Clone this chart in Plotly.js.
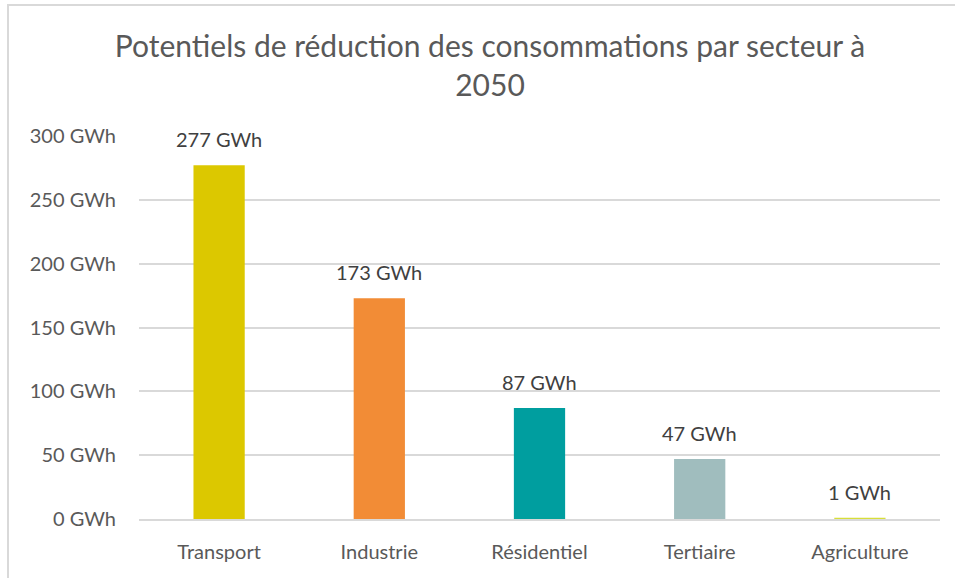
<!DOCTYPE html>
<html>
<head>
<meta charset="utf-8">
<script src="https://cdn.plot.ly/plotly-3.0.1.min.js"></script>
<style>
  body { margin: 0; background: #fff; }
  #chartDiv { width: 955px; height: 578px; }
  /* light frame of the chart area, open on right and bottom */
  #frame { position: absolute; left: 7px; top: 4px; width: 970px; height: 600px;
           border-left: 2px solid #d9d9d9; border-top: 2px solid #d9d9d9; pointer-events: none; }
</style>
</head>
<body>
<div id="chartDiv"></div>
<div id="frame"></div>
<script>
// chart values
var sectors = ['Transport', 'Industrie', 'Résidentiel', 'Tertiaire', 'Agriculture'];
var savings = [277, 173, 87, 47, 1]; // GWh
var barColors = ['#dcc800', '#f28c36', '#009e9f', '#a0bdbe', '#d7de3a'];
var yTicks = [0, 50, 100, 150, 200, 250, 300];
var yTickText = yTicks.map(function (v) { return v + ' GWh'; });

var data = [{
    type: 'bar',
    x: sectors,
    y: savings,
    marker: { color: barColors },
    hoverinfo: 'none'
}];

// data labels above each bar
var labels = [];
for (var i = 0; i < sectors.length; i++) {
    labels.push({
        x: sectors[i],
        y: savings[i],
        text: savings[i] + ' GWh',
        showarrow: false,
        yanchor: 'bottom',
        yshift: 12,
        font: { family: 'Lato, sans-serif', size: 20, color: '#404040' }
    });
}

var layout = {
    width: 955,
    height: 578,
    margin: { l: 139, r: 15, t: 136, b: 59 },
    paper_bgcolor: '#ffffff',
    plot_bgcolor: '#ffffff',
    showlegend: false,
    bargap: 0.68,
    font: { family: 'Lato, sans-serif', color: '#595959' },
    title: {
        text: 'Potentiels de réduction des consommations par secteur à<br>2050',
        x: 490 / 955,
        xanchor: 'center',
        xref: 'container',
        y: 1 - 57 / 578,
        yanchor: 'middle',
        yref: 'container',
        font: { family: 'Lato, sans-serif', size: 30, color: '#595959' }
    },
    xaxis: {
        type: 'category',
        showgrid: false,
        showline: true,
        linecolor: '#d9d9d9',
        linewidth: 2,
        ticks: '',
        ticklabelstandoff: 14,
        tickfont: { size: 20, color: '#595959' },
        fixedrange: true
    },
    yaxis: {
        range: [0, 300],
        tickmode: 'array',
        tickvals: yTicks,
        ticktext: yTickText,
        showgrid: true,
        gridcolor: '#d9d9d9',
        gridwidth: 2,
        zeroline: false,
        showline: false,
        ticks: '',
        ticklabelstandoff: 22,
        tickfont: { size: 20, color: '#595959' },
        fixedrange: true
    },
    annotations: labels
};

Plotly.newPlot('chartDiv', data, layout, { displayModeBar: false, staticPlot: true });
</script>
</body>
</html>
